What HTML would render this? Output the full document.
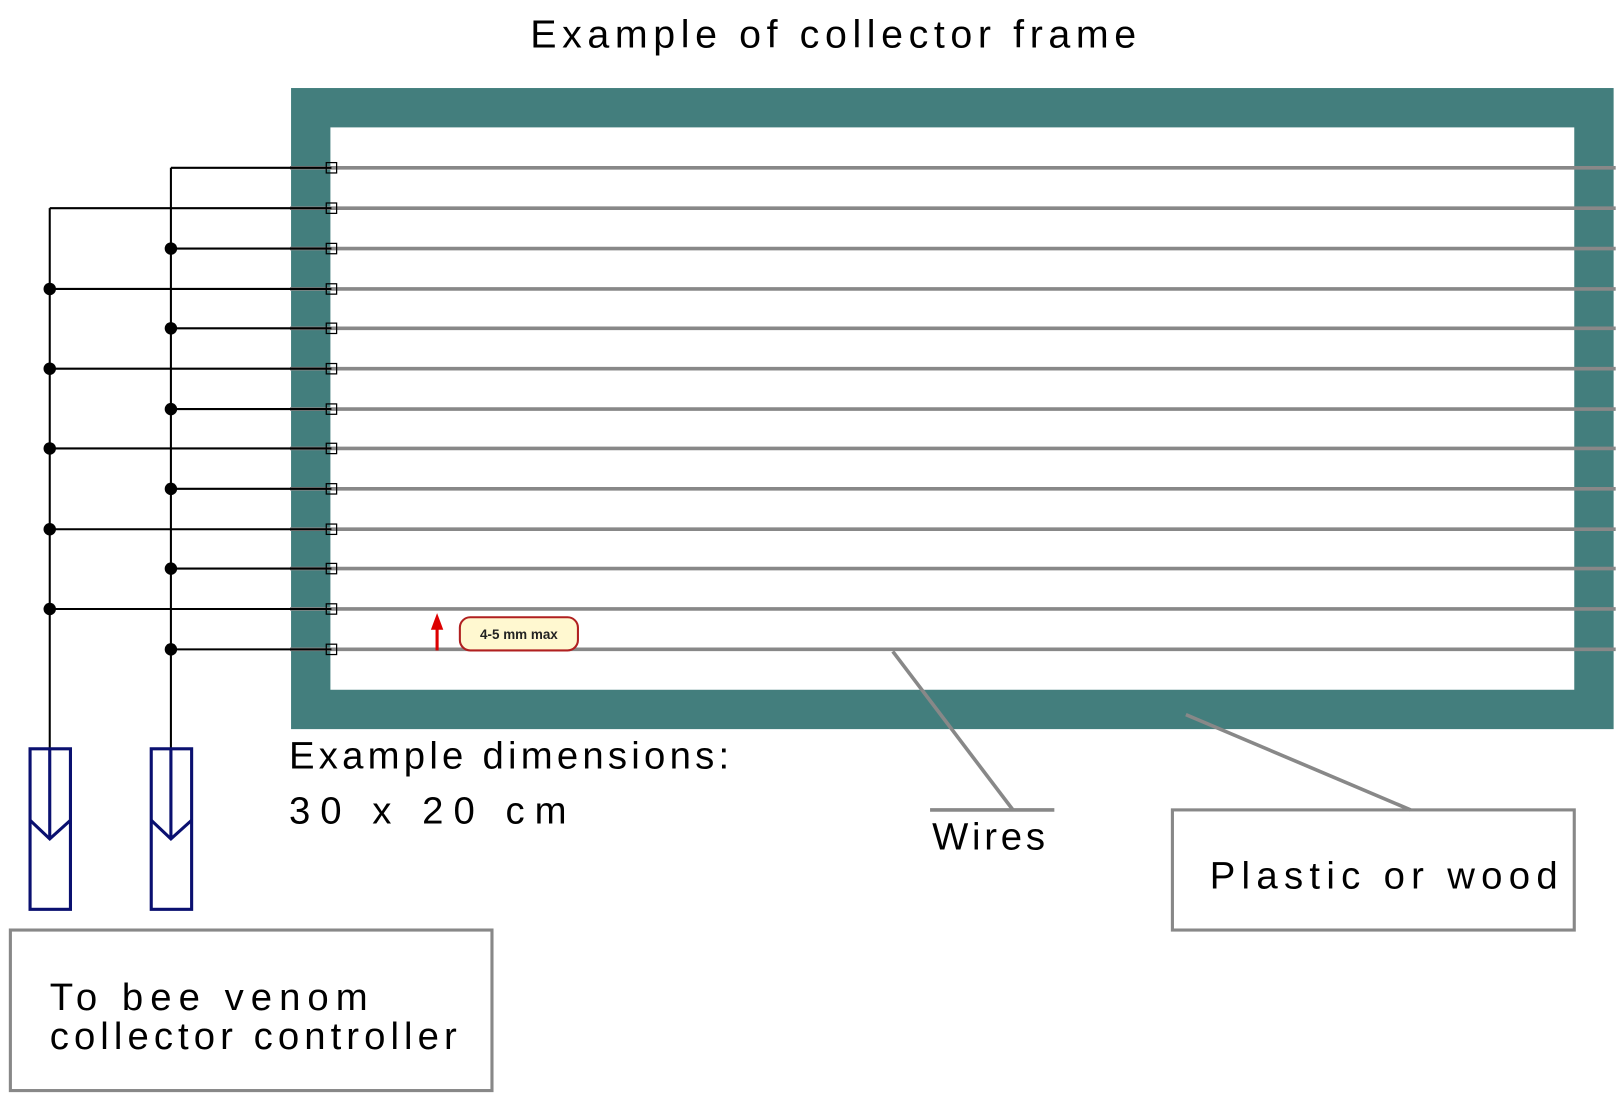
<!DOCTYPE html>
<html><head><meta charset="utf-8"><style>html,body{margin:0;padding:0;background:#fff}svg{display:block}</style></head>
<body>
<svg width="1624" height="1103" viewBox="0 0 1568 1065" xmlns="http://www.w3.org/2000/svg" font-family="Liberation Sans, sans-serif">
<rect width="1568" height="1065" fill="#fff"/>
<text x="512" y="46" font-size="38" textLength="585" lengthAdjust="spacing">Example of collector frame</text>
<rect x="281" y="85" width="1277" height="619" fill="#437e7d"/>
<rect x="319" y="123" width="1201" height="543" fill="#fff"/>
<g stroke="#888" stroke-width="3.5">
<line x1="280" y1="162" x2="1560" y2="162"/><line x1="280" y1="201" x2="1560" y2="201"/>
<line x1="280" y1="240" x2="1560" y2="240"/><line x1="280" y1="279" x2="1560" y2="279"/>
<line x1="280" y1="317" x2="1560" y2="317"/><line x1="280" y1="356" x2="1560" y2="356"/>
<line x1="280" y1="395" x2="1560" y2="395"/><line x1="280" y1="433" x2="1560" y2="433"/>
<line x1="280" y1="472" x2="1560" y2="472"/><line x1="280" y1="511" x2="1560" y2="511"/>
<line x1="280" y1="549" x2="1560" y2="549"/><line x1="280" y1="588" x2="1560" y2="588"/>
<line x1="280" y1="627" x2="1560" y2="627"/>
<line x1="862" y1="629" x2="978" y2="782"/><line x1="898" y1="782" x2="1018" y2="782"/>
<line x1="1145" y1="690" x2="1362" y2="782"/>
</g>
<g stroke="#000" stroke-width="2" fill="none">
<line x1="165" y1="162" x2="320" y2="162"/><line x1="48" y1="201" x2="320" y2="201"/>
<line x1="165" y1="240" x2="320" y2="240"/><line x1="48" y1="279" x2="320" y2="279"/>
<line x1="165" y1="317" x2="320" y2="317"/><line x1="48" y1="356" x2="320" y2="356"/>
<line x1="165" y1="395" x2="320" y2="395"/><line x1="48" y1="433" x2="320" y2="433"/>
<line x1="165" y1="472" x2="320" y2="472"/><line x1="48" y1="511" x2="320" y2="511"/>
<line x1="165" y1="549" x2="320" y2="549"/><line x1="48" y1="588" x2="320" y2="588"/>
<line x1="165" y1="627" x2="320" y2="627"/>
<line x1="165" y1="162" x2="165" y2="723"/><line x1="48" y1="201" x2="48" y2="723"/>
<g stroke-width="1.2">
<rect x="315" y="157" width="10" height="10"/><rect x="315" y="196" width="10" height="10"/>
<rect x="315" y="235" width="10" height="10"/><rect x="315" y="274" width="10" height="10"/>
<rect x="315" y="312" width="10" height="10"/><rect x="315" y="351" width="10" height="10"/>
<rect x="315" y="390" width="10" height="10"/><rect x="315" y="428" width="10" height="10"/>
<rect x="315" y="467" width="10" height="10"/><rect x="315" y="506" width="10" height="10"/>
<rect x="315" y="544" width="10" height="10"/><rect x="315" y="583" width="10" height="10"/>
<rect x="315" y="622" width="10" height="10"/>
</g></g>
<g fill="#000">
<circle cx="165" cy="240" r="6"/><circle cx="165" cy="317" r="6"/><circle cx="165" cy="395" r="6"/>
<circle cx="165" cy="472" r="6"/><circle cx="165" cy="549" r="6"/><circle cx="165" cy="627" r="6"/>
<circle cx="48" cy="279" r="6"/><circle cx="48" cy="356" r="6"/><circle cx="48" cy="433" r="6"/>
<circle cx="48" cy="511" r="6"/><circle cx="48" cy="588" r="6"/>
</g>
<g stroke="#0a1070" stroke-width="3" fill="none">
<rect x="29" y="723" width="39" height="155"/><line x1="48" y1="723" x2="48" y2="810"/><polyline points="29,792 48,810 68,792"/>
<rect x="146" y="723" width="39" height="155"/><line x1="165" y1="723" x2="165" y2="810"/><polyline points="146,792 165,810 185,792"/>
</g>
<line x1="422" y1="628" x2="422" y2="606" stroke="#d00" stroke-width="3"/>
<polygon points="422,592 416,608 428,608" fill="#d00"/>
<rect x="444" y="596" width="114" height="32" rx="10" fill="#fff8d0" stroke="#b02020" stroke-width="2"/>
<text x="501" y="617" font-size="13" text-anchor="middle" font-weight="bold" fill="#222">4-5 mm max</text>
<text x="279" y="742" font-size="37" textLength="425" lengthAdjust="spacing">Example dimensions:</text>
<text x="279" y="795" font-size="37" textLength="268" lengthAdjust="spacing">30 x 20 cm</text>
<text x="900" y="820" font-size="37" textLength="109" lengthAdjust="spacing">Wires</text>
<rect x="1132" y="782" width="388" height="116" fill="none" stroke="#888" stroke-width="3"/>
<text x="1168" y="858" font-size="37" textLength="336" lengthAdjust="spacing">Plastic or wood</text>
<rect x="10" y="898" width="465" height="155" fill="none" stroke="#888" stroke-width="3"/>
<text x="48" y="975" font-size="37" textLength="307" lengthAdjust="spacing">To bee venom</text>
<text x="48" y="1013" font-size="37" textLength="393" lengthAdjust="spacing">collector controller</text>
</svg>
</body></html>
